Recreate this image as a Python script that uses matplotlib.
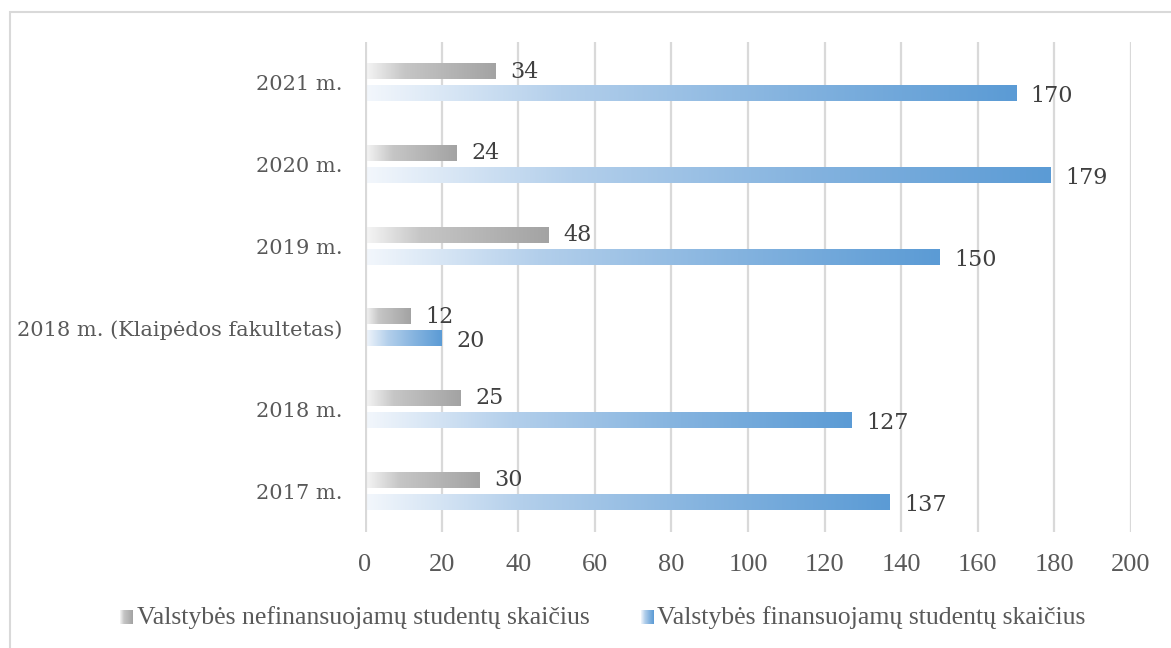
import numpy as np
import matplotlib
matplotlib.use('Agg')
import matplotlib.pyplot as plt
from matplotlib.colors import LinearSegmentedColormap
from matplotlib.patches import Rectangle

categories = ['2017 m.', '2018 m.', '2018 m. (Klaipėdos fakultetas)',
              '2019 m.', '2020 m.', '2021 m.']
nefinansuojami = [30, 25, 12, 48, 24, 34]
finansuojami = [137, 127, 20, 150, 179, 170]
series_names = ['Valstybės nefinansuojamų studentų skaičius',
                'Valstybės finansuojamų studentų skaičius']
x_ticks = list(range(0, 201, 20))

gray_cmap = LinearSegmentedColormap.from_list(
    'gray_grad', [(0, '#f6f6f6'), (0.3, '#c6c6c6'), (1, '#a3a3a3')])
blue_cmap = LinearSegmentedColormap.from_list(
    'blue_grad', [(0, '#f3f7fc'), (0.3, '#b3cfeb'), (0.65, '#84b3df'), (1, '#5b9bd5')])

grad = np.linspace(0, 1, 256).reshape(1, -1)


def gradient_bar(ax, y, width, height, cmap):
    ax.imshow(grad, cmap=cmap, aspect='auto', interpolation='bilinear',
              extent=[0, width, y - height / 2, y + height / 2], zorder=3)


def main():
    fig = plt.figure(figsize=(11.71, 6.48), dpi=100)
    fig.patches.append(Rectangle((10 / 1171, -0.1), 1.2, 1.1 - 12 / 648, transform=fig.transFigure,
                                 fill=False, edgecolor='#d9d9d9', lw=1.5))
    ax = fig.add_axes([365 / 1171, 1 - 532 / 648, 766 / 1171, 490 / 648])

    y = np.arange(len(categories))
    bar_h = 0.185
    off = 0.135
    for i in y:
        gradient_bar(ax, i + off, nefinansuojami[i], bar_h, gray_cmap)
        gradient_bar(ax, i - off, finansuojami[i], bar_h, blue_cmap)
        ax.text(nefinansuojami[i] + 3.8, i + off, str(nefinansuojami[i]), va='center', ha='left',
                fontsize=16, family='DejaVu Serif', color='#404040', zorder=4)
        ax.text(finansuojami[i] + 3.8, i - off - 0.03, str(finansuojami[i]), va='center', ha='left',
                fontsize=16, family='DejaVu Serif', color='#404040', zorder=4)

    ax.set_xlim(0, 200)
    ax.set_ylim(-0.5, len(categories) - 0.5)
    ax.set_xticks(x_ticks)
    ax.set_xticklabels([str(t) for t in x_ticks], family='Liberation Serif', fontsize=19,
                       color='#595959')
    ax.set_yticks(y)
    ax.set_yticklabels(categories, family='DejaVu Serif', fontsize=15, color='#595959')
    ax.tick_params(axis='y', length=0, pad=16)
    ax.tick_params(axis='x', length=0, pad=16)
    for s in ax.spines.values():
        s.set_visible(False)
    for t in x_ticks[1:]:
        ax.axvline(t, color='#d9d9d9', lw=1.6, zorder=1)
    ax.axvline(0, color='#d9d9d9', lw=3, zorder=5)

    # legend drawn by hand: gradient squares + labels
    for sx, tx, cmap, name in [(120, 137, gray_cmap, series_names[0]),
                               (641, 657, blue_cmap, series_names[1])]:
        lax = fig.add_axes([sx / 1171, 1 - 624 / 648, 13 / 1171, 14 / 648])
        lax.imshow(grad, cmap=cmap, aspect='auto', interpolation='bilinear')
        lax.axis('off')
        fig.text(tx / 1171, 1 - 618 / 648, name, va='center', ha='left',
                 family='Liberation Serif', fontsize=18.5, color='#595959')

    fig.savefig('out.png', dpi=100)


if __name__ == '__main__':
    main()
